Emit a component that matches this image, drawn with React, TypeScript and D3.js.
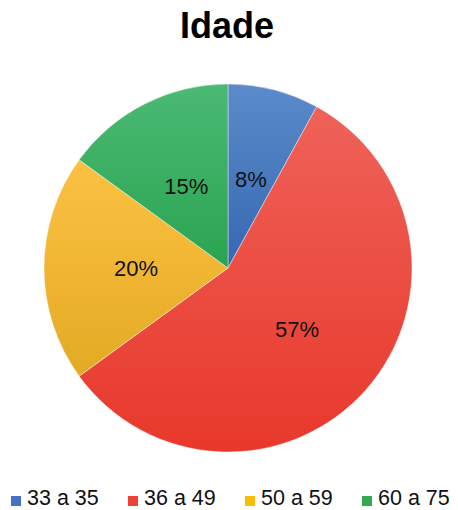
import React from "react";
import * as d3 from "d3";

const categories = ["33 a 35", "36 a 49", "50 a 59", "60 a 75"];
const values = [8, 57, 20, 15];
const labels = ["8%", "57%", "20%", "15%"];
const colorsTop = ["#5b8bca", "#ef6259", "#fcc142", "#4bb974"];
const colorsBottom = ["#3568b2", "#e8382b", "#e3aa25", "#2aa450"];
const legendColors = ["#4472c4", "#ea4335", "#fbbc05", "#34a853"];

const W = 458;
const H = 510;
const cx = 228;
const cy = 268;
const R = 184;

export default function App() {
  const pie = d3.pie<number>().sort(null).value((d) => d)(values);
  const arc = d3.arc<d3.PieArcDatum<number>>().innerRadius(0).outerRadius(R);
  const labelArc = d3.arc<d3.PieArcDatum<number>>().innerRadius(R * 0.5).outerRadius(R * 0.5);
  const legendX = d3.scaleOrdinal<string, number>().domain(categories).range([11, 128, 245, 362]);

  return (
    <svg width={W} height={H} style={{ position: "absolute", left: 0, top: 0 }}>
      <defs>
        {categories.map((c, i) => (
          <linearGradient key={c} id={`g${i}`} x1="0" y1="0" x2="0" y2="1">
            <stop offset="0%" stopColor={colorsTop[i]} />
            <stop offset="100%" stopColor={colorsBottom[i]} />
          </linearGradient>
        ))}
      </defs>
      <rect width={W} height={H} fill="#fff" />
      <text x={227} y={38} textAnchor="middle" fontFamily="Liberation Sans, Arial, sans-serif" fontWeight="bold" fontSize={36} fill="#000">
        Idade
      </text>
      <g transform={`translate(${cx},${cy})`}>
        {pie.map((p, i) => (
          <path key={i} d={arc(p) || ""} fill={`url(#g${i})`} stroke="#ffffff" strokeOpacity={0.5} strokeWidth={0.8} />
        ))}
        {pie.map((p, i) => {
          const [x, y] = labelArc.centroid(p);
          return (
            <text key={i} x={x} y={y} dy="0.36em" textAnchor="middle" fontFamily="Liberation Sans, Arial, sans-serif" fontSize={22} fill="#111">
              {labels[i]}
            </text>
          );
        })}
      </g>
      <g>
        {categories.map((c, i) => (
          <g key={c} transform={`translate(${legendX(c)},0)`}>
            <rect x={0} y={496} width={10} height={10} fill={legendColors[i]} />
            <text x={16} y={505} fontFamily="Liberation Sans, Arial, sans-serif" fontSize={21.5} fill="#111">
              {c}
            </text>
          </g>
        ))}
      </g>
    </svg>
  );
}
